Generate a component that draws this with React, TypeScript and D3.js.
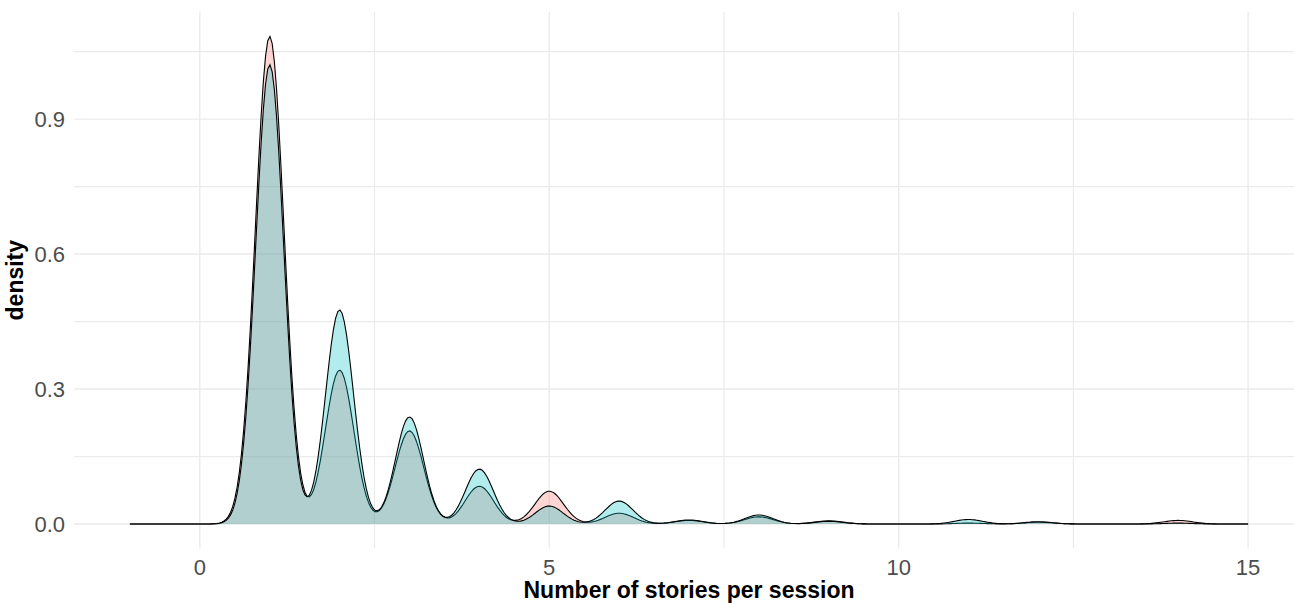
import React from "react";
import * as d3 from "d3";

// Number of stories per session (integer values where density peaks sit)
const storyCounts = [1, 2, 3, 4, 5, 6, 7, 8, 9, 10, 11, 12, 13, 14];
// Peak density heights, per group
const groupAPeaks = [1.084, 0.342, 0.207, 0.084, 0.073, 0.024, 0.008, 0.016, 0.007, 0.0, 0.002, 0.004, 0.0, 0.008];
const groupBPeaks = [1.021, 0.476, 0.238, 0.122, 0.04, 0.051, 0.009, 0.02, 0.006, 0.0, 0.01, 0.005, 0.0, 0.002];
// Kernel bandwidths of the two groups
const groupBandwidths = [0.205, 0.2];
const groupColors = ["#F8766D", "#00BFC4"];
const densityRange = [-1, 15];

const xTicks = [0, 5, 10, 15];
const xMinor = [2.5, 7.5, 12.5];
const yTicks = [0, 0.3, 0.6, 0.9];
const yMinor = [0.15, 0.45, 0.75, 1.05];

const W = 1294;
const H = 603;

function densityCurve(peaks: number[], bw: number) {
  const n = 512;
  const [a, b] = densityRange;
  const pts: [number, number][] = [];
  for (let i = 0; i < n; i++) {
    const x = a + ((b - a) * i) / (n - 1);
    let y = 0;
    storyCounts.forEach((k, j) => {
      const z = (x - k) / bw;
      y += peaks[j] * Math.exp(-0.5 * z * z);
    });
    pts.push([x, y]);
  }
  return pts;
}

export default function App() {
  const x = d3.scaleLinear().domain([-1.8, 15.8]).range([74, 1304]);
  const y = d3.scaleLinear().domain([-0.0542, 1.138]).range([548.4, 12]);
  const panelTop = 12;
  const panelBottom = 548.4;
  const panelLeft = 74;
  const panelRight = 1304;

  const series = [groupAPeaks, groupBPeaks].map((p, i) => densityCurve(p, groupBandwidths[i]));
  const area = d3
    .area<[number, number]>()
    .x((d) => x(d[0]))
    .y0(y(0))
    .y1((d) => y(d[1]));
  const line = d3
    .line<[number, number]>()
    .x((d) => x(d[0]))
    .y((d) => y(d[1]));

  const font = "'Liberation Sans', Arial, sans-serif";

  return (
    <svg
      width={W}
      height={H}
      style={{ position: "absolute", left: 0, top: 0, background: "#fff" }}
      fontFamily={font}
    >
      <rect x={0} y={0} width={W} height={H} fill="#fff" />
      {/* minor grid */}
      {xMinor.map((t) => (
        <line key={"xm" + t} x1={x(t)} x2={x(t)} y1={panelTop} y2={panelBottom} stroke="#EBEBEB" strokeWidth={1.2} />
      ))}
      {yMinor.map((t) => (
        <line key={"ym" + t} x1={panelLeft} x2={panelRight} y1={y(t)} y2={y(t)} stroke="#EBEBEB" strokeWidth={1.2} />
      ))}
      {/* major grid */}
      {xTicks.map((t) => (
        <line key={"xM" + t} x1={x(t)} x2={x(t)} y1={panelTop} y2={panelBottom} stroke="#EBEBEB" strokeWidth={1.4} />
      ))}
      {yTicks.map((t) => (
        <line key={"yM" + t} x1={panelLeft} x2={panelRight} y1={y(t)} y2={y(t)} stroke="#EBEBEB" strokeWidth={1.4} />
      ))}
      {/* densities */}
      {series.map((s, i) => (
        <g key={"s" + i}>
          <path d={area(s) || ""} fill={groupColors[i]} fillOpacity={0.3} stroke="none" />
          <path d={line(s) || ""} fill="none" stroke="#000" strokeWidth={1.1} />
        </g>
      ))}
      {/* tick labels */}
      {xTicks.map((t) => (
        <text key={"xl" + t} x={x(t)} y={574.5} textAnchor="middle" fontSize={22} fill="#4D4D4D">
          {t}
        </text>
      ))}
      {yTicks.map((t) => (
        <text key={"yl" + t} x={65} y={y(t) + 8} textAnchor="end" fontSize={22} fill="#4D4D4D">
          {d3.format(".1f")(t)}
        </text>
      ))}
      {/* axis titles */}
      <text x={(panelLeft + panelRight) / 2} y={598} textAnchor="middle" fontSize={23} fontWeight="bold" fill="#000">
        Number of stories per session
      </text>
      <text
        transform={`translate(23, ${(panelTop + panelBottom) / 2}) rotate(-90)`}
        textAnchor="middle"
        fontSize={23}
        fontWeight="bold"
        fill="#000"
      >
        density
      </text>
    </svg>
  );
}
